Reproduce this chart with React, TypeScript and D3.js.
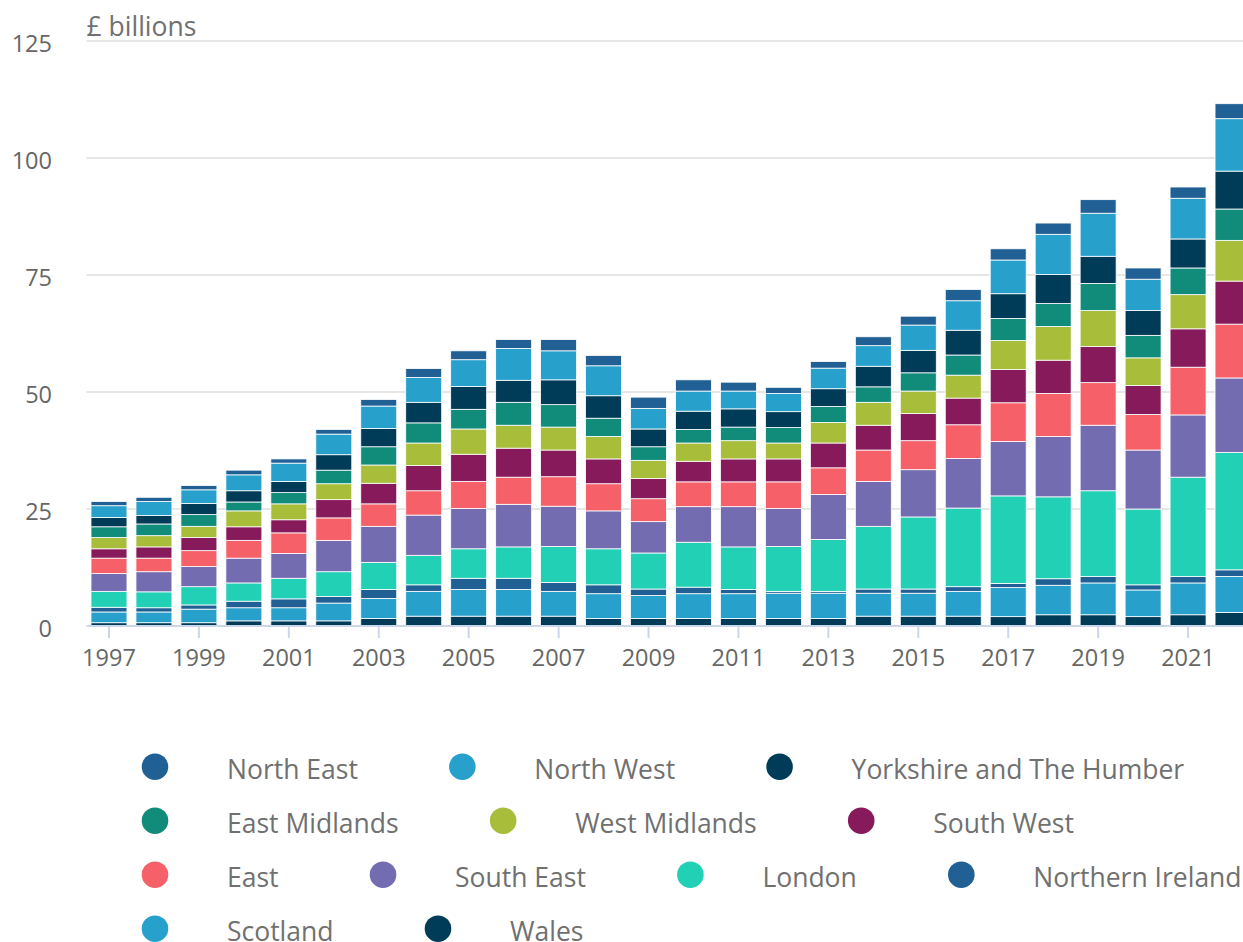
import React, { useEffect, useRef } from "react";
import * as d3 from "d3";

// years on the x axis
const years = [1997, 1998, 1999, 2000, 2001, 2002, 2003, 2004, 2005, 2006, 2007, 2008, 2009,
  2010, 2011, 2012, 2013, 2014, 2015, 2016, 2017, 2018, 2019, 2020, 2021, 2022];

// £ billions per region
const northEast = [0.9, 0.9, 0.9, 1.0, 0.9, 1.0, 1.4, 1.9, 1.9, 1.9, 2.4, 2.2, 2.4, 2.4, 1.9, 1.3, 1.4, 1.9, 1.9, 2.4, 2.4, 2.4, 2.9, 2.4, 2.4, 3.2];
const northWest = [2.5, 3.0, 2.9, 3.4, 3.9, 4.4, 4.8, 5.3, 5.7, 6.8, 6.2, 6.4, 4.4, 4.3, 3.8, 3.9, 4.4, 4.4, 5.4, 6.3, 7.2, 8.6, 9.2, 6.7, 8.7, 11.2];
const yorkshire = [2.0, 1.8, 2.4, 2.4, 2.4, 3.3, 3.9, 4.4, 4.9, 4.7, 5.3, 4.8, 3.8, 3.9, 3.9, 3.4, 3.8, 4.4, 4.8, 5.3, 5.3, 6.2, 5.8, 5.3, 6.2, 8.1];
const eastMidlands = [2.3, 2.5, 2.5, 1.9, 2.4, 2.9, 3.9, 4.3, 4.2, 4.9, 4.8, 3.9, 2.9, 2.9, 2.9, 3.3, 3.4, 3.3, 3.9, 4.3, 4.7, 4.9, 5.8, 4.8, 5.7, 6.7];
const westMidlands = [2.4, 2.4, 2.4, 3.4, 3.4, 3.4, 3.9, 4.8, 5.4, 4.9, 4.9, 4.8, 3.9, 3.9, 3.9, 3.4, 4.4, 4.9, 4.8, 4.9, 6.2, 7.2, 7.7, 5.9, 7.3, 8.7];
const southWest = [2.0, 2.4, 2.8, 2.9, 2.8, 3.9, 4.4, 5.4, 5.8, 6.2, 5.7, 5.3, 4.3, 4.4, 4.9, 4.9, 5.3, 5.3, 5.8, 5.7, 7.1, 7.1, 7.7, 6.2, 8.2, 9.2];
const east = [3.3, 2.9, 3.4, 3.8, 4.4, 4.8, 4.8, 5.2, 5.8, 5.8, 6.3, 5.8, 4.9, 5.3, 5.3, 5.7, 5.7, 6.7, 6.2, 7.2, 8.3, 9.2, 9.1, 7.6, 10.2, 11.5];
const southEast = [3.8, 4.3, 4.3, 5.3, 5.3, 6.7, 7.7, 8.6, 8.6, 9.1, 8.6, 8.1, 6.7, 7.6, 8.6, 8.1, 9.6, 9.6, 10.1, 10.6, 11.6, 12.9, 14.0, 12.6, 13.3, 15.9];
const london = [3.4, 3.4, 3.9, 3.9, 4.4, 5.3, 5.8, 6.3, 6.3, 6.7, 7.7, 7.7, 7.7, 9.6, 9.1, 9.6, 11.1, 13.4, 15.4, 16.8, 18.7, 17.5, 18.3, 16.2, 21.2, 25.1];
const northernIreland = [1.0, 0.9, 0.9, 1.4, 1.9, 1.4, 1.9, 1.4, 2.4, 2.4, 1.9, 1.9, 1.4, 1.4, 0.9, 0.4, 0.4, 0.9, 0.9, 1.0, 0.9, 1.4, 1.4, 1.1, 1.4, 1.4];
const scotland = [2.3, 2.3, 2.9, 2.8, 2.8, 3.8, 4.3, 5.3, 5.7, 5.7, 5.3, 5.3, 4.9, 5.3, 5.3, 5.4, 5.4, 4.9, 4.9, 5.3, 6.2, 6.3, 6.8, 5.7, 6.8, 7.7];
const wales = [0.7, 0.7, 0.7, 1.1, 1.1, 1.1, 1.6, 2.1, 2.1, 2.1, 2.1, 1.6, 1.6, 1.6, 1.6, 1.6, 1.6, 2.1, 2.1, 2.1, 2.0, 2.4, 2.4, 2.0, 2.4, 2.9];

// legend order (first one sits on top of the stack)
const regions = ["North East", "North West", "Yorkshire and The Humber", "East Midlands", "West Midlands",
  "South West", "East", "South East", "London", "Northern Ireland", "Scotland", "Wales"];
const regionValues = [northEast, northWest, yorkshire, eastMidlands, westMidlands, southWest,
  east, southEast, london, northernIreland, scotland, wales];
const colours = ["#206095", "#27a0cc", "#003c57", "#118c7b", "#a8bd3a", "#871a5b",
  "#f66068", "#746cb1", "#22d0b6", "#206095", "#27a0cc", "#003c57"];

const yTicks = [0, 25, 50, 75, 100, 125];
const xLabels = [1997, 1999, 2001, 2003, 2005, 2007, 2009, 2011, 2013, 2015, 2017, 2019, 2021];

const WIDTH = 1243;
const HEIGHT = 942;
const FONT = "'Open Sans', sans-serif";

export default function App() {
  const ref = useRef<SVGSVGElement>(null);

  useEffect(() => {
    const svg = d3.select(ref.current);
    svg.selectAll("*").remove();

    const rows = years.map((yr, i) => {
      const row: any = { year: yr };
      regions.forEach((r, j) => { row[r] = regionValues[j][i]; });
      return row;
    });

    const x = d3.scaleBand<number>()
      .domain(years)
      .range([86.5, 1255.5])
      .paddingInner(0.2)
      .paddingOuter(0.1);
    const y = d3.scaleLinear().domain([0, 125]).range([626, 41]);

    // gridlines
    svg.append("g")
      .selectAll("line")
      .data(yTicks.filter((t) => t > 0))
      .join("line")
      .attr("x1", 86.5)
      .attr("x2", WIDTH)
      .attr("y1", (d) => y(d))
      .attr("y2", (d) => y(d))
      .attr("stroke", "#e6e6e6")
      .attr("stroke-width", 2);

    // y labels
    svg.append("g")
      .selectAll("text")
      .data(yTicks)
      .join("text")
      .attr("x", 52)
      .attr("y", (d) => y(d) + 10.5)
      .attr("text-anchor", "end")
      .attr("font-family", FONT)
      .attr("font-size", 23.5)
      .attr("fill", "#666666")
      .text((d) => d);

    svg.append("text")
      .attr("x", 86.5)
      .attr("y", 35.5)
      .attr("font-family", FONT)
      .attr("font-size", 26.5)
      .attr("fill", "#707070")
      .text("£ billions");

    // stacked bars, bottom of the stack is the last legend entry
    const keys = regions.slice().reverse();
    const stacked = d3.stack<any>().keys(keys)(rows);

    svg.append("g")
      .selectAll("g")
      .data(stacked)
      .join("g")
      .attr("fill", (d) => colours[regions.indexOf(d.key)])
      .selectAll("rect")
      .data((d) => d)
      .join("rect")
      .attr("x", (d) => x(d.data.year)!)
      .attr("width", x.bandwidth())
      .attr("y", (d) => y(d[1]))
      .attr("height", (d) => y(d[0]) - y(d[1]))
      .attr("stroke", "#ffffff")
      .attr("stroke-width", 0.8);

    // x axis
    const xAxis = d3.axisBottom(x)
      .tickValues(xLabels)
      .tickSize(12)
      .tickPadding(6);

    const ax = svg.append("g")
      .attr("transform", "translate(0,626)")
      .call(xAxis);
    ax.select(".domain")
      .attr("d", "M86.5,0H" + WIDTH)
      .attr("stroke", "#ccd6eb")
      .attr("stroke-width", 2);
    ax.selectAll(".tick line")
      .attr("stroke", "#ccd6eb")
      .attr("stroke-width", 2);
    ax.selectAll(".tick text")
      .attr("font-family", FONT)
      .attr("font-size", 23.5)
      .attr("fill", "#666666")
      .attr("dy", "0.95em");

    // legend, flows left to right and wraps
    const legend = svg.append("g");
    let lx = 155;
    let ly = 766.7;
    regions.forEach((r, i) => {
      const item = legend.append("g");
      const label = item.append("text")
        .attr("font-family", FONT)
        .attr("font-size", 26.5)
        .attr("fill", "#707070")
        .text(r);
      const w = (label.node() as SVGTextElement).getComputedTextLength();
      if (lx + 72 + w > 1262) {
        lx = 155;
        ly += 54;
      }
      label.attr("x", lx + 72).attr("y", ly + 12.3);
      item.append("circle")
        .attr("cx", lx)
        .attr("cy", ly)
        .attr("r", 13.3)
        .attr("fill", colours[i]);
      lx = lx + 72 + w + 104.5;
    });
  }, []);

  return (
    <svg
      ref={ref}
      width={WIDTH}
      height={HEIGHT}
      style={{ position: "absolute", left: 0, top: 0, background: "#ffffff" }}
    />
  );
}
